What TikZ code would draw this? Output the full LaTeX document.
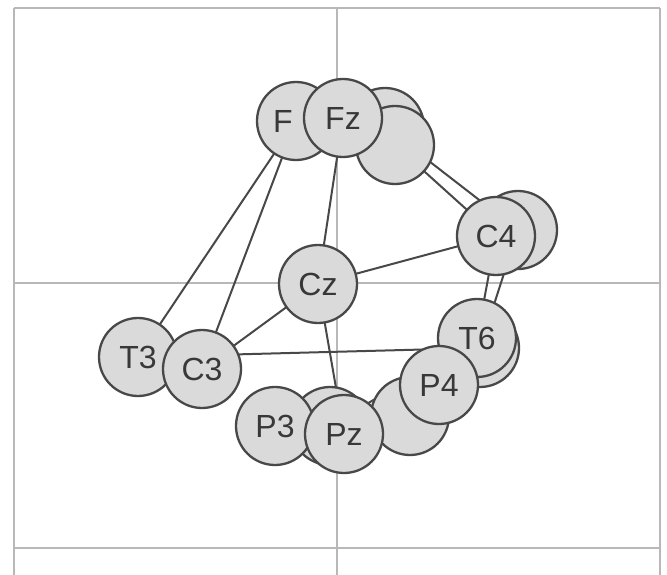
\documentclass[tikz,border=0pt]{standalone}
\usepackage{fontspec}
\setmainfont{Liberation Sans}
\usetikzlibrary{backgrounds}
\definecolor{gridc}{HTML}{B8B8B8}
\definecolor{cfill}{HTML}{DADADA}
\definecolor{outl}{HTML}{484848}
\definecolor{txt}{HTML}{383838}
\tikzset{
  elec/.style={circle, draw=outl, line width=2.3pt, fill=cfill, minimum size=78pt, inner sep=0pt,
    text=txt, font=\fontsize{32}{32}\selectfont},
  lbl/.style={text=txt, font=\fontsize{32}{32}\selectfont, inner sep=0pt},
  gridline/.style={draw=gridc, line width=2.6pt},
  conn/.style={draw=outl, line width=2pt}
}
\begin{document}
\begin{tikzpicture}[x=1pt,y=-1pt]
\useasboundingbox (0,0) rectangle (667,575);
% frame coordinates
\coordinate (gTL) at (14,8);
\coordinate (gTM) at (337,8);
\coordinate (gTR) at (660,8);
\coordinate (gML) at (14,283);
\coordinate (gMR) at (660,283);
\coordinate (gBL) at (14,548);
\coordinate (gBR) at (660,548);
\coordinate (gEL) at (14,575);
\coordinate (gEM) at (337,575);
\coordinate (gER) at (660,575);
% electrodes (back to front)
\node[elec, label={[lbl, xshift=-13pt]center:F}] (F3) at (296,121) {};
\node[elec] (H1) at (385,127) {};
\node[elec] (H2) at (395,145) {};
\node[elec] (Fz) at (343,118) {Fz};
\node[elec] (T4) at (518,230) {};
\node[elec] (C4) at (496,236) {C4};
\node[elec] (Cz) at (318,284) {Cz};
\node[elec] (T3) at (138,357) {T3};
\node[elec] (C3) at (202,369) {C3};
\node[elec] (H5) at (480,348) {};
\node[elec] (T6) at (477,338) {T6};
\node[elec] (H3) at (410,416) {};
\node[elec] (H4) at (330,426) {};
\node[elec] (P3) at (275,426) {P3};
\node[elec] (Pz) at (344,434) {Pz};
\node[elec] (P4) at (439,385) {P4};
\begin{pgfonlayer}{background}
  \draw[gridline] (gTL) -- (gTR);
  \draw[gridline] (gML) -- (gMR);
  \draw[gridline] (gBL) -- (gBR);
  \draw[gridline] (gTL) -- (gEL);
  \draw[gridline] (gTM) -- (gEM);
  \draw[gridline] (gTR) -- (gER);
  \draw[conn] (F3.center) -- (T3.center);
  \draw[conn] (F3.center) -- (C3.center);
  \draw[conn] (Fz.center) -- (Cz.center);
  \draw[conn] (H2.center) -- (C4.center);
  \draw[conn] (H1.center) -- (T4.center);
  \draw[conn] (Cz.center) -- (C4.center);
  \draw[conn] (Cz.center) -- (C3.center);
  \draw[conn] (Cz.center) -- (Pz.center);
  \draw[conn] (T3.center) -- (H5.center);
  \draw[conn] (C4.center) -- (T6.center);
  \draw[conn] (T4.center) -- (H5.center);
  \draw[conn] (H4.center) -- (T6.center);
\end{pgfonlayer}
\end{tikzpicture}
\end{document}
